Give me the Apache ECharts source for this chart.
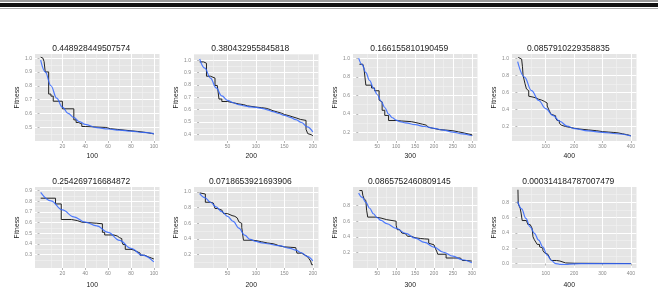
<!DOCTYPE html>
<html>
<head>
<meta charset="utf-8">
<script src="https://cdn.jsdelivr.net/npm/echarts@6/dist/echarts.min.js"></script>
<style>
  html, body { margin: 0; padding: 0; background: #fff; }
  #main { width: 658px; height: 290px; }
</style>
</head>
<body>
<div id="main"></div>
<script>
// run results: final fitness per run (panel titles) and generation count
const titles = ['0.448928449507574', '0.380432955845818', '0.166155810190459', '0.0857910229358835',
                '0.254269716684872', '0.0718653921693906', '0.0865752460809145', '0.000314184787007479']
const generations = [100, 200, 300, 400, 100, 200, 300, 400]

// tick labels
const xTicks = {
  100: [20, 40, 60, 80, 100],
  200: [50, 100, 150, 200],
  300: [50, 100, 150, 200, 250, 300],
  400: [100, 200, 300, 400]
}
const yTicks = [
  [0.5, 0.6, 0.7, 0.8, 0.9, 1.0],
  [0.4, 0.5, 0.6, 0.7, 0.8, 0.9, 1.0],
  [0.2, 0.4, 0.6, 0.8, 1.0],
  [0.2, 0.4, 0.6, 0.8, 1.0],
  [0.3, 0.4, 0.5, 0.6, 0.7, 0.8, 0.9],
  [0.2, 0.4, 0.6, 0.8, 1.0],
  [0.2, 0.4, 0.6, 0.8],
  [0.0, 0.2, 0.4, 0.6, 0.8]
]
const yLow = [0.40, 0.345, 0.11, 0.03, 0.175, 0.03, 0.005, -0.058]
const yHigh = [1.03, 1.05, 1.045, 1.05, 0.935, 1.065, 1.035, 1.0]

// best fitness per generation (black step line), [generation, fitness] at each change
const best1 = [[1,1.007],[2,1.0],[3,0.99],[4,0.975],[5,0.9],[8,0.74],[10,0.725],[12,0.688],[20,0.633],[30,0.553],[32,0.534],[34,0.524],[37,0.505],[40,0.498],[58,0.489],[62,0.484],[68,0.479],[74,0.474],[80,0.469],[86,0.464],[91,0.459],[95,0.455],[98,0.451],[100,0.449]]
const best2 = [[1,0.986],[8,0.975],[13,0.87],[20,0.855],[28,0.795],[32,0.78],[35,0.685],[40,0.665],[50,0.655],[60,0.645],[70,0.64],[78,0.63],[85,0.62],[100,0.615],[110,0.61],[118,0.6],[125,0.59],[130,0.58],[138,0.57],[145,0.56],[150,0.55],[158,0.54],[165,0.53],[172,0.52],[178,0.512],[188,0.44],[191,0.405],[194,0.395],[198,0.385],[200,0.380]]
const best3 = [[3,0.935],[12,0.92],[15,0.89],[20,0.71],[35,0.68],[43,0.65],[55,0.55],[58,0.53],[63,0.44],[70,0.385],[80,0.33],[100,0.325],[115,0.318],[140,0.31],[150,0.3],[160,0.29],[170,0.28],[180,0.27],[185,0.258],[190,0.245],[200,0.232],[215,0.228],[230,0.22],[250,0.208],[265,0.196],[280,0.186],[290,0.178],[300,0.166]]
const best4 = [[3,1.01],[8,0.99],[15,0.97],[18,0.9],[20,0.80],[27,0.70],[32,0.64],[36,0.62],[40,0.555],[45,0.545],[55,0.535],[65,0.52],[75,0.51],[85,0.495],[95,0.475],[105,0.44],[112,0.39],[118,0.345],[125,0.325],[135,0.3],[140,0.27],[148,0.24],[155,0.215],[162,0.2],[170,0.19],[185,0.18],[200,0.17],[220,0.16],[250,0.15],[280,0.14],[300,0.135],[320,0.13],[340,0.125],[355,0.115],[370,0.105],[385,0.097],[395,0.09],[400,0.0858]]
const best5 = [[1,0.83],[14,0.776],[19,0.63],[28,0.62],[33,0.605],[37,0.595],[50,0.59],[55,0.51],[57,0.485],[65,0.475],[68,0.46],[70,0.45],[72,0.425],[73,0.395],[75,0.35],[80,0.345],[82,0.33],[85,0.315],[88,0.295],[92,0.28],[95,0.268],[98,0.26],[100,0.254]]
const best6 = [[1,0.99],[4,0.975],[11,0.87],[20,0.86],[25,0.85],[28,0.79],[32,0.77],[40,0.75],[43,0.725],[50,0.70],[58,0.69],[63,0.67],[67,0.65],[70,0.62],[73,0.6],[75,0.55],[78,0.385],[95,0.38],[100,0.365],[110,0.35],[120,0.34],[130,0.33],[135,0.315],[140,0.30],[150,0.295],[160,0.29],[170,0.285],[172,0.22],[180,0.2],[185,0.18],[190,0.17],[193,0.15],[196,0.12],[198,0.072],[200,0.072]]
const best7 = [[3,0.99],[10,0.98],[12,0.93],[15,0.89],[18,0.87],[20,0.86],[22,0.74],[25,0.652],[45,0.645],[50,0.64],[60,0.63],[65,0.62],[75,0.60],[100,0.55],[103,0.492],[110,0.47],[115,0.45],[120,0.44],[125,0.42],[130,0.408],[140,0.39],[150,0.38],[165,0.375],[175,0.372],[186,0.32],[190,0.30],[200,0.29],[204,0.25],[207,0.22],[210,0.18],[232,0.132],[270,0.125],[275,0.10],[285,0.093],[300,0.0866]]
const best8 = [[2,0.964],[3,0.78],[10,0.72],[13,0.66],[17,0.562],[32,0.55],[37,0.51],[45,0.49],[52,0.46],[55,0.35],[60,0.31],[65,0.28],[70,0.25],[78,0.22],[85,0.2],[90,0.17],[96,0.14],[102,0.12],[108,0.1],[114,0.07],[120,0.04],[138,0.033],[150,0.02],[155,0.008],[170,0.004],[200,0.0003],[400,0.000314]]

// smoothed trend (blue)
const trend1 = [[1,0.985],[5,0.90],[10,0.80],[15,0.71],[20,0.645],[25,0.60],[30,0.57],[35,0.54],[40,0.52],[50,0.497],[60,0.487],[70,0.479],[80,0.471],[90,0.463],[100,0.453]]
const trend2 = [[1,1.01],[10,0.935],[20,0.855],[30,0.775],[40,0.71],[50,0.675],[60,0.655],[70,0.64],[80,0.63],[90,0.622],[100,0.617],[110,0.61],[120,0.598],[130,0.583],[140,0.568],[150,0.553],[160,0.537],[170,0.518],[180,0.495],[190,0.46],[200,0.418]]
const trend3 = [[1,1.0],[10,0.93],[20,0.845],[30,0.76],[40,0.68],[50,0.61],[60,0.54],[70,0.47],[80,0.40],[90,0.36],[100,0.335],[110,0.318],[125,0.305],[150,0.285],[175,0.266],[200,0.246],[225,0.226],[250,0.206],[275,0.186],[300,0.166]]
const trend4 = [[1,0.96],[25,0.78],[50,0.62],[75,0.505],[100,0.41],[125,0.33],[150,0.26],[175,0.205],[200,0.175],[250,0.148],[300,0.132],[350,0.115],[400,0.09]]
const trend5 = [[1,0.885],[10,0.805],[20,0.72],[30,0.655],[40,0.605],[50,0.57],[60,0.51],[70,0.435],[80,0.36],[90,0.295],[100,0.232]]
const trend6 = [[1,0.98],[10,0.93],[20,0.87],[30,0.81],[40,0.75],[50,0.69],[60,0.625],[70,0.54],[80,0.45],[90,0.395],[100,0.37],[110,0.352],[120,0.34],[140,0.315],[160,0.28],[170,0.258],[180,0.225],[190,0.178],[200,0.12]]
const trend7 = [[1,0.96],[10,0.905],[20,0.84],[30,0.765],[40,0.695],[50,0.645],[60,0.61],[75,0.57],[100,0.51],[125,0.445],[150,0.385],[175,0.33],[200,0.27],[225,0.205],[250,0.155],[275,0.11],[300,0.072]]
const trend8 = [[1,0.81],[15,0.715],[30,0.59],[45,0.48],[60,0.395],[75,0.305],[90,0.215],[105,0.11],[120,0.04],[135,0.0],[150,-0.01],[170,-0.012],[200,-0.004],[250,0.0],[300,0.0],[400,0.0]]

const bestRuns = [best1, best2, best3, best4, best5, best6, best7, best8]
const trends = [trend1, trend2, trend3, trend4, trend5, trend6, trend7, trend8]

// layout
const colLeft = [35, 194, 353, 512]
const plotW = 124.5
const rowTop = [54, 187]
const plotH = [87, 86]
const FONT = '"Liberation Sans", Arial, sans-serif'

// minor grid lines sit halfway between the major ones
function minorOf (ticks) {
  const step = ticks[1] - ticks[0]
  const out = [ticks[0] - step / 2]
  ticks.forEach(t => out.push(+(t + step / 2).toFixed(4)))
  return out
}

const grids = [], xAxes = [], yAxes = [], series = []
const graphics = [
  { type: 'rect', shape: { x: 0, y: 0, width: 658, height: 2 }, style: { fill: '#999' } },
  { type: 'rect', shape: { x: 0, y: 3, width: 658, height: 4 }, style: { fill: '#111' } },
  { type: 'rect', shape: { x: 0, y: 8, width: 658, height: 1 }, style: { fill: '#aaa' } }
]

for (let i = 0; i < 8; i++) {
  const col = i % 4
  const row = Math.floor(i / 4)
  const n = generations[i]
  const pad = (n - 1) * 0.05
  const xt = xTicks[n]
  const yt = yTicks[i]

  grids.push({
    left: colLeft[col], top: rowTop[row], width: plotW, height: plotH[row],
    show: true, backgroundColor: '#e5e5e5', borderWidth: 0
  })

  const hidden = { axisLine: { show: false }, axisLabel: { show: false } }
  // minor axes (grid only)
  xAxes.push(Object.assign({
    gridIndex: i, type: 'value', position: 'top', min: 1 - pad, max: n + pad,
    axisTick: { show: false, customValues: minorOf(xt) },
    splitLine: { show: true, lineStyle: { color: '#f2f2f2', width: 0.6 } }
  }, hidden))
  yAxes.push(Object.assign({
    gridIndex: i, type: 'value', position: 'right', min: yLow[i], max: yHigh[i],
    axisTick: { show: false, customValues: minorOf(yt) },
    splitLine: { show: true, lineStyle: { color: '#f2f2f2', width: 0.6 } }
  }, hidden))

  // major axes
  xAxes.push({
    gridIndex: i, type: 'value', position: 'bottom', min: 1 - pad, max: n + pad,
    name: String(n), nameLocation: 'middle', nameGap: row ? 14 : 12,
    nameTextStyle: { fontSize: 6.8, color: '#1a1a1a', fontFamily: FONT, padding: [0, 10, 0, 0] },
    axisLine: { show: false },
    axisTick: { show: true, length: 2, customValues: xt, lineStyle: { color: '#888', width: 0.6 } },
    axisLabel: { customValues: xt, fontSize: 5, color: '#888', margin: 3, fontFamily: FONT },
    splitLine: { show: true, lineStyle: { color: '#ffffff', width: 1 } }
  })
  yAxes.push({
    gridIndex: i, type: 'value', position: 'left', min: yLow[i], max: yHigh[i],
    name: 'Fitness', nameLocation: 'middle', nameGap: 14, nameRotate: 90,
    nameTextStyle: { fontSize: 6.8, color: '#1a1a1a', fontFamily: FONT },
    axisLine: { show: false },
    axisTick: { show: true, length: 2, customValues: yt, lineStyle: { color: '#888', width: 0.6 } },
    axisLabel: { customValues: yt, fontSize: 5, color: '#888', margin: 3, fontFamily: FONT,
                 formatter: v => v.toFixed(1) },
    splitLine: { show: true, lineStyle: { color: '#ffffff', width: 1 } }
  })

  series.push({
    type: 'line', xAxisIndex: 2 * i + 1, yAxisIndex: 2 * i + 1,
    data: bestRuns[i], step: 'end', symbol: 'none', z: 3,
    lineStyle: { color: '#222222', width: 1 }
  })
  series.push({
    type: 'line', xAxisIndex: 2 * i + 1, yAxisIndex: 2 * i + 1,
    data: trends[i], smooth: 0.4, smoothMonotone: 'x', symbol: 'none', z: 4,
    lineStyle: { color: '#3366ff', width: 1.2, opacity: 0.85 }
  })

  graphics.push({
    type: 'text',
    x: colLeft[col] + plotW / 2 - 6,
    y: rowTop[row] - 5,
    style: {
      text: titles[i], fill: '#1a1a1a', font: '8.5px ' + FONT,
      align: 'center', verticalAlign: 'middle', textAlign: 'center', textVerticalAlign: 'middle'
    }
  })
}

const myChart = echarts.init(document.getElementById('main'), null, { renderer: 'canvas' })
myChart.setOption({
  animation: false,
  backgroundColor: '#ffffff',
  grid: grids,
  xAxis: xAxes,
  yAxis: yAxes,
  series: series,
  graphic: graphics
})
</script>
</body>
</html>
